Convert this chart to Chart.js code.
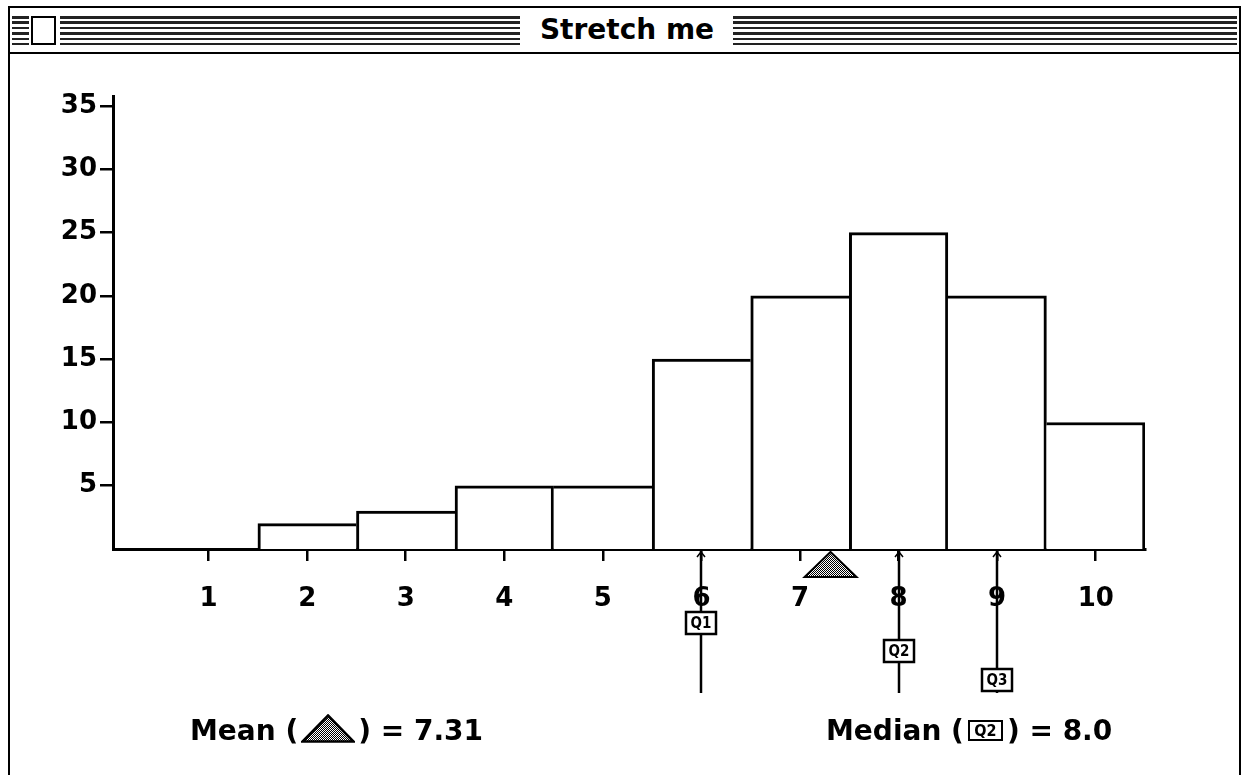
<!DOCTYPE html>
<html>
<head>
<meta charset="utf-8">
<title>Stretch me</title>
<script src="https://cdn.jsdelivr.net/npm/chart.js@4.4.1/dist/chart.umd.min.js"></script>
<style>
  html, body { margin: 0; padding: 0; background: #fff; }
  body { width: 1243px; height: 775px; position: relative; overflow: hidden; font-family: "DejaVu Sans", sans-serif; }
  #chart { position: absolute; left: 0; top: 0; }
  #win { position: absolute; left: 8px; top: 6px; width: 1229px; height: 800px; border: 2px solid #000; border-bottom: none; pointer-events: none; }
  #titlebar { position: absolute; left: 0; top: 0; width: 1229px; height: 44px; border-bottom: 2px solid #000; background: #fff; }
  .stripes { position: absolute; top: 8px; height: 29px; background: repeating-linear-gradient(to bottom, #222 0 2.5px, #fff 2.5px 5.4px); }
  #close { position: absolute; left: 21px; top: 8px; width: 21px; height: 25px; border: 2.5px solid #000; background: #fff; }
  #title { position: absolute; left: 467px; width: 300px; top: 5px; line-height: 44px; text-align: center; font: bold 28px "DejaVu Sans"; }
  .legend { position: absolute; top: 714px; font: bold 28px "DejaVu Sans"; line-height: 34px; white-space: nowrap; }
  .tri { display: inline-block; width: 54px; height: 29px; vertical-align: -3px; margin: 0 3px; }
  .qbox { display: inline-block; width: 31px; height: 17px; border: 2px solid #000; margin: 0 4px; vertical-align: 4px;
          font: bold 16px "DejaVu Sans Condensed"; line-height: 17px; text-align: center; }
</style>
</head>
<body>
<canvas id="chart" width="1243" height="775"></canvas>
<div id="win">
  <div id="titlebar">
    <div class="stripes" style="left:2px;width:17px"></div>
    <div id="close"></div>
    <div class="stripes" style="left:50px;width:460px"></div>
    <div id="title">Stretch me</div>
    <div class="stripes" style="left:723px;width:504px"></div>
  </div>
</div>
<div class="legend" style="left:190px">Mean (<svg class="tri" viewBox="0 0 54 29"><defs><pattern id="dots" width="2" height="2" patternUnits="userSpaceOnUse"><rect width="2" height="2" fill="#fff"/><rect width="1" height="1" fill="#000"/><rect x="1" y="1" width="1" height="1" fill="#000"/></pattern></defs><polygon points="27,1.5 52.5,27.5 1.5,27.5" fill="url(#dots)" stroke="#000" stroke-width="2.5"/></svg>) = <span id="meanText"></span></div>
<div class="legend" style="left:826px">Median (<span class="qbox">Q2</span>) = <span id="medianText"></span></div>
<script>
const categories = [1, 2, 3, 4, 5, 6, 7, 8, 9, 10];
const counts = [0, 2, 3, 5, 5, 15, 20, 25, 20, 10];
const yTicks = [5, 10, 15, 20, 25, 30, 35];
const meanValue = 7.31;
const quartiles = [6, 8, 9];
const quartileNames = ['Q1', 'Q2', 'Q3'];
const medianValue = 8.0;

document.getElementById('meanText').textContent = meanValue.toFixed(2);
document.getElementById('medianText').textContent = medianValue.toFixed(1);

// little box heights under the axis for Q1..Q3
const boxCenters = [623, 651, 680];

function stipple(ctx) {
  const c = document.createElement('canvas');
  c.width = 2; c.height = 2;
  const g = c.getContext('2d');
  g.fillStyle = '#fff'; g.fillRect(0, 0, 2, 2);
  g.fillStyle = '#000'; g.fillRect(0, 0, 1, 1); g.fillRect(1, 1, 1, 1);
  return ctx.createPattern(c, 'repeat');
}

const marks = {
  id: 'marks',
  afterDraw(chart) {
    const ctx = chart.ctx;
    const x = chart.scales.x, y = chart.scales.y;
    const base = y.getPixelForValue(0);
    ctx.save();
    ctx.strokeStyle = '#000';
    ctx.lineWidth = 2.5;

    quartiles.forEach((q, i) => {
      const px = Math.round(x.getPixelForValue(q));
      ctx.beginPath();
      ctx.moveTo(px, base + 2);
      ctx.lineTo(px, 693);
      ctx.stroke();
      ctx.lineWidth = 1.5;
      ctx.beginPath();
      ctx.moveTo(px - 4, base + 8);
      ctx.lineTo(px, base + 3);
      ctx.lineTo(px + 4, base + 8);
      ctx.stroke();
      ctx.lineWidth = 2.5;

      const cy = boxCenters[i];
      ctx.fillStyle = '#fff';
      ctx.fillRect(px - 15, cy - 11, 30, 22);
      ctx.strokeRect(px - 15, cy - 11, 30, 22);
      ctx.fillStyle = '#000';
      ctx.font = 'bold 15px "DejaVu Sans Condensed"';
      ctx.textAlign = 'center';
      ctx.textBaseline = 'middle';
      ctx.fillText(quartileNames[i], px, cy + 1);
    });

    const mx = x.getPixelForValue(meanValue);
    ctx.beginPath();
    ctx.moveTo(mx, base + 3);
    ctx.lineTo(mx + 26, 577);
    ctx.lineTo(mx - 26, 577);
    ctx.closePath();
    ctx.fillStyle = stipple(ctx);
    ctx.fill();
    ctx.lineWidth = 2;
    ctx.stroke();
    ctx.restore();
  }
};

new Chart(document.getElementById('chart'), {
  type: 'bar',
  data: {
    datasets: [{
      data: categories.map((c, i) => ({ x: c, y: counts[i] })),
      backgroundColor: '#fff',
      borderColor: '#000',
      borderSkipped: false,
      borderWidth: ctx => {
        const i = ctx.dataIndex, v = counts[i];
        return {
          top: 3,
          bottom: 0,
          left: (i > 0 && counts[i - 1] >= v) ? 0 : 3,
          right: (i < counts.length - 1 && counts[i + 1] > v) ? 0 : 3
        };
      },
      barPercentage: 1,
      categoryPercentage: 1
    }]
  },
  options: {
    responsive: false,
    animation: false,
    layout: { padding: { top: 96, right: 98, left: 0, bottom: 0 } },
    plugins: { legend: { display: false }, tooltip: { enabled: false } },
    scales: {
      x: {
        type: 'linear',
        min: 0.03,
        max: 10.5,
        offset: false,
        afterFit: s => { s.height = 775 - 549; },
        afterBuildTicks: s => { s.ticks = categories.map(v => ({ value: v })); },
        border: { display: true, color: '#000', width: 3 },
        grid: { drawOnChartArea: false, offset: false, color: '#000', lineWidth: 2.5, tickLength: 12 },
        ticks: { color: '#000', font: { family: 'DejaVu Sans', weight: 'bold', size: 26 }, padding: 23, maxRotation: 0 }
      },
      y: {
        min: 0,
        max: 35.8,
        afterFit: s => { s.width = 113; },
        afterBuildTicks: s => { s.ticks = yTicks.map(v => ({ value: v })); },
        border: { display: true, color: '#000', width: 3 },
        grid: { drawOnChartArea: false, color: '#000', lineWidth: 2.5, tickLength: 13 },
        ticks: { color: '#000', font: { family: 'DejaVu Sans', weight: 'bold', size: 26 }, padding: 3 }
      }
    }
  },
  plugins: [marks]
});
</script>
</body>
</html>
